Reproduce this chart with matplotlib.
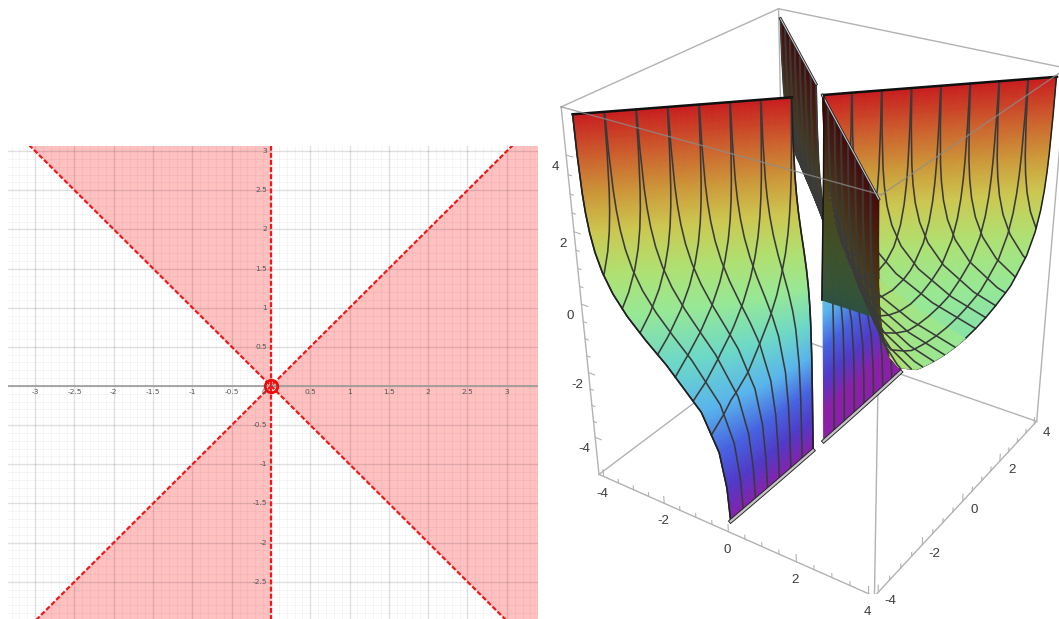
import numpy as np
import matplotlib
matplotlib.use("Agg")
import matplotlib.pyplot as plt
from matplotlib.colors import LinearSegmentedColormap
from mpl_toolkits.mplot3d import proj3d
from mpl_toolkits.mplot3d.art3d import Poly3DCollection
import contourpy

W, H = 1059, 619

# ---------- left chart data ----------
BOUNDARY_POS_X = [-3.4, 3.4]
BOUNDARY_POS_Y = [-3.4, 3.4]
BOUNDARY_NEG_X = [-3.4, 3.4]
BOUNDARY_NEG_Y = [3.4, -3.4]
BOUNDARY_V_X = [0, 0]
BOUNDARY_V_Y = [-3.1, 3.1]
REGION_UPPER_LEFT_X = [-3.4, 0, 0, -3.4]
REGION_UPPER_LEFT_Y = [3.4, 0, 3.4, 3.4]
REGION_LOWER_LEFT_X = [-3.4, 0, 0, -3.4]
REGION_LOWER_LEFT_Y = [-3.4, 0, -3.4, -3.4]
REGION_RIGHT_X = [0, 3.4, 3.4]
REGION_RIGHT_Y = [0, 3.4, -3.4]
HOLE_X = [0]
HOLE_Y = [0]
TICKS_2D = [-3, -2.5, -2, -1.5, -1, -0.5, 0.5, 1, 1.5, 2, 2.5, 3]
TICK_LABELS_2D = ["-3", "-2.5", "-2", "-1.5", "-1", "-0.5", "0.5", "1", "1.5", "2", "2.5", "3"]
YTICKS_2D = [-2.5, -2, -1.5, -1, -0.5, 0.5, 1, 1.5, 2, 2.5, 3]
YTICK_LABELS_2D = ["-2.5", "-2", "-1.5", "-1", "-0.5", "0.5", "1", "1.5", "2", "2.5", "3"]
MAJOR_GRID = [-3.5, -3, -2.5, -2, -1.5, -1, -0.5, 0, 0.5, 1, 1.5, 2, 2.5, 3, 3.5]

# ---------- surface data: distance |x| per row (z) and column (|y|) ----------
Y_LEVELS = [0, 0.5, 1, 1.5, 2, 2.5, 3, 3.5, 4]
Z_ROWS_LEFT = [-5, -4, -3, -2, -1, -0.5, 0, 0.5, 1, 1.5, 2, 2.5, 3, 4, 5]
ABS_X_LEFT = [
    [0, .0006, .0025, .0056, .0099, .0155, .0223, .0304, .0397],
    [0, .0017, .0067, .0152, .0270, .0421, .0606, .0825, .1077],
    [0, .0046, .0183, .0412, .0733, .1143, .1643, .2235, .2915],
    [0, .0124, .0497, .1114, .1972, .3065, .4386, .5926, .7677],
    [0, .0337, .1329, .2929, .5064, .7662, 1.0642, 1.3942, 1.7501],
    [0, .0551, .2130, .4557, .7626, 1.1163, 1.5035, 1.9148, 2.3436],
    [0, .0890, .3282, .6651, 1.0590, 1.4866, 1.9345, 2.3957, 2.8656],
    [0, .1398, .4716, .8872, 1.3389, 1.8080, 2.2868, 2.7712, 3.2596],
    [0, .2071, .6180, 1.0811, 1.5616, 2.0495, 2.5414, 3.0355, 3.5311],
    [0, .2816, .7417, 1.2271, 1.7196, 2.2151, 2.7121, 3.2098, 3.7083],
    [0, .3488, .8329, 1.3273, 1.8246, 2.3227, 2.8217, 3.3210, 3.8203],
    [0, .4007, .8947, 1.3926, 1.8916, 2.3911, 2.8907, 3.3902, 3.8900],
    [0, .4369, .9346, 1.4339, 1.9335, 2.4332, 2.9331, 3.4330, 3.9329],
    [0, .4757, .9754, 1.4753, 1.9753, 2.4752, 2.9752, 3.4752, 3.9752],
    [0, .4909, .9909, 1.4908, 1.9908, 2.4908, 2.9908, 3.4908, 3.9908],
]
Z_ROWS_RIGHT = [-0.5, 0, 0.5, 1, 1.5, 2, 2.5, 3, 4, 5]
X_RIGHT = [
    [4.4817, 4.5368, 4.6947, 4.9374, 5.2443, 5.5980, 5.9852, 6.3965, 6.8253],
    [2.7183, 2.8073, 3.0465, 3.3834, 3.7773, 4.2049, 4.6528, 5.1140, 5.5839],
    [1.6487, 1.7885, 2.1203, 2.5359, 2.9876, 3.4567, 3.9355, 4.4199, 4.9083],
    [1.0000, 1.2071, 1.6180, 2.0811, 2.5616, 3.0495, 3.5414, 4.0355, 4.5311],
    [.6065, .8881, 1.3482, 1.8336, 2.3261, 2.8216, 3.3186, 3.8163, 4.3148],
    [.3679, .7167, 1.2008, 1.6952, 2.1925, 2.6906, 3.1896, 3.6889, 4.1882],
    [.2231, .6238, 1.1178, 1.6157, 2.1147, 2.6142, 3.1138, 3.6133, 4.1131],
    [.1353, .5722, 1.0699, 1.5692, 2.0688, 2.5685, 3.0684, 3.5683, 4.0682],
    [.0498, .5255, 1.0252, 1.5251, 2.0251, 2.5250, 3.0250, 3.5250, 4.0250],
    [.0183, .5092, 1.0092, 1.5091, 2.0091, 2.5091, 3.0091, 3.5091, 4.0091],
]
# dark wall left of the right sheet, in the plane y = 0
WALL_Z = [-0.6, 0, 0.5, 1, 1.5, 2, 2.5, 3, 4, 5]
WALL_LEFT_X = [-0.03, -0.02, -0.01, 0.0, 0.01, 0.02, 0.03, 0.04, 0.05, 0.06]
WALL_RIGHT_X = [1.90, 1.90, 1.65, 1.00, 0.61, 0.37, 0.22, 0.135, 0.05, 0.06]
X_MESH_LEVELS = [0.5, 1, 1.5, 2, 2.5, 3, 3.5]
X_MESH_LEVELS_RIGHT = [0.5, 1, 1.5, 2, 2.5, 3, 3.5]
X_LIMIT = 4.0
RAINBOW_Z = [-5, -4, -3, -2, -1, 0, 1, 2, 3, 4, 5]
RAINBOW_COLORS = ["#8a1fa8", "#5038c8", "#4662e0", "#58b4ec", "#6cd8c8", "#96e896",
                  "#b0e070", "#ccc850", "#cc9638", "#cc5c2c", "#c81e1e"]
AXIS_TICKS_3D = [-4, -3.5, -3, -2.5, -2, -1.5, -1, -0.5, 0, 0.5, 1, 1.5, 2, 2.5, 3, 3.5, 4]
MAJOR_3D = [-4, -2, 0, 2, 4]
MAJOR_LABELS_3D = ["-4", "-2", "0", "2", "4"]
BOX_X = (-4.16, 4.16)
BOX_Y = (-4.16, 4.16)
BOX_Z = (-5.2, 5.2)

fig = plt.figure(figsize=(W / 100, H / 100), dpi=100)

# ===== left chart =====
lx0, lx1, ly0, ly1 = 8, 538, 146, 619
a = fig.add_axes([lx0 / W, (H - ly1) / H, (lx1 - lx0) / W, (ly1 - ly0) / H])
for s in a.spines.values():
    s.set_visible(False)
pink = "#ffc0c0"
a.fill(REGION_UPPER_LEFT_X, REGION_UPPER_LEFT_Y, color=pink, lw=0, zorder=1)
a.fill(REGION_LOWER_LEFT_X, REGION_LOWER_LEFT_Y, color=pink, lw=0, zorder=1)
a.fill(REGION_RIGHT_X, REGION_RIGHT_Y, color=pink, lw=0, zorder=1)
minor = np.round(np.arange(-3.4, 3.41, 0.1), 1)
a.set_xticks(MAJOR_GRID)
a.set_yticks(MAJOR_GRID)
a.set_xticks(minor, minor=True)
a.set_yticks(minor, minor=True)
a.set_xlim(-3.346, 3.397)
a.set_ylim(-2.976, 3.065)
a.tick_params(which="both", length=0, labelbottom=False, labelleft=False)
a.grid(True, which="major", color="black", alpha=0.12, lw=1.0, zorder=2)
a.grid(True, which="minor", color="black", alpha=0.035, lw=0.7, zorder=2)
a.set_axisbelow(False)
a.axhline(0, color="#9a9a9a", lw=1.2, zorder=3)
dash = (0, (2.2, 1.0))
a.plot(BOUNDARY_POS_X, BOUNDARY_POS_Y, color="#f01818", lw=1.6, ls=dash, zorder=4)
a.plot(BOUNDARY_NEG_X, BOUNDARY_NEG_Y, color="#f01818", lw=1.6, ls=dash, zorder=4)
a.plot(BOUNDARY_V_X, BOUNDARY_V_Y, color="#f01818", lw=1.6, ls=dash, zorder=4)
a.plot(HOLE_X, HOLE_Y, "o", ms=9, mfc="none", mec="#f00a0a", mew=2.0, zorder=5)
for v, t in zip(TICKS_2D, TICK_LABELS_2D):
    a.annotate(t, (v, 0), xytext=(0, -4.6), textcoords="offset points", ha="center", va="center",
               fontsize=5.4, color="#555555", zorder=6)
for v, t in zip(YTICKS_2D, YTICK_LABELS_2D):
    a.annotate(t, (0, v), xytext=(-3, 0), textcoords="offset points", ha="right", va="center",
               fontsize=5.4, color="#555555", zorder=6)
a.annotate("0", (0, 0), xytext=(-5, -4.6), textcoords="offset points", ha="center", va="center",
           fontsize=5.4, color="#555555", zorder=6)

# ===== right 3D chart =====
ax = fig.add_axes([509.2 / W, (H - 593.5) / H, 610.7 / W, 610.7 / H], projection="3d")
ax.set_axis_off()
ax.patch.set_alpha(0)
ax.computed_zorder = False
ax.set_xlim(*BOX_X); ax.set_ylim(*BOX_Y); ax.set_zlim(*BOX_Z)
ax.view_init(28.847, -56.092, 0.332)
ax.set_proj_type("persp", focal_length=0.419)
ax.set_box_aspect((1, 1, 1.211))
M = ax.get_proj()
cmap = LinearSegmentedColormap.from_list("rb", [((z + 5) / 10, c) for z, c in zip(RAINBOW_Z, RAINBOW_COLORS)])


def clip_poly(P):
    out = []
    n = len(P)
    for i in range(n):
        p, q = P[i], P[(i + 1) % n]
        pin, qin = p[0] <= X_LIMIT, q[0] <= X_LIMIT
        if pin:
            out.append(p)
        if pin != qin:
            t = (X_LIMIT - p[0]) / (q[0] - p[0])
            out.append(p + t * (q - p))
    return out


def faces(table, rows, xs, ys_sign, clip=False, j0=0, drop_first_above=None, lit_shift=0.0):
    table = np.array(table, float)[:, j0:]
    rows = np.array(rows, float)
    Y = np.array(Y_LEVELS, float)[j0:] * ys_sign
    polys, cols = [], []
    for i in range(len(rows) - 1):
        n = max(1, int(np.ceil((rows[i + 1] - rows[i]) / 0.05)))
        for k in range(n):
            t0, t1 = k / n, (k + 1) / n
            z0 = rows[i] + t0 * (rows[i + 1] - rows[i])
            z1 = rows[i] + t1 * (rows[i + 1] - rows[i])
            for j in range(len(Y) - 1):
                if j == 0 and drop_first_above is not None and z0 >= drop_first_above:
                    continue
                xa0 = table[i, j] + t0 * (table[i + 1, j] - table[i, j])
                xa1 = table[i, j] + t1 * (table[i + 1, j] - table[i, j])
                xb0 = table[i, j + 1] + t0 * (table[i + 1, j + 1] - table[i, j + 1])
                xb1 = table[i, j + 1] + t1 * (table[i + 1, j + 1] - table[i, j + 1])
                P = [np.array([xs * xa0, Y[j], z0]), np.array([xs * xb0, Y[j + 1], z0]),
                     np.array([xs * xb1, Y[j + 1], z1]), np.array([xs * xa1, Y[j], z1])]
                n_z = np.cross(P[1] - P[0], P[3] - P[0])[2]
                sx, sy, _ = proj3d.proj_transform(*np.array(P).T, M)
                area = (sx[2] - sx[0]) * (sy[3] - sy[1]) - (sx[3] - sx[1]) * (sy[2] - sy[0])
                if clip:
                    P = clip_poly(P)
                    if len(P) < 3:
                        continue
                zm = (z0 + z1) / 2
                if n_z * area < 0:
                    c = np.array(cmap((zm + 5) / 10))
                    c[:3] *= 0.36
                else:
                    c = np.array(cmap((np.clip(zm + lit_shift, -5, 5) + 5) / 10))
                polys.append(np.array(P))
                cols.append(c)
    return polys, cols


def wall_faces():
    polys, cols = [], []
    for i in range(len(WALL_Z) - 1):
        n = int(np.ceil((WALL_Z[i + 1] - WALL_Z[i]) / 0.05))
        for k in range(n):
            t0, t1 = k / n, (k + 1) / n
            za = WALL_Z[i] + t0 * (WALL_Z[i + 1] - WALL_Z[i])
            zb = WALL_Z[i] + t1 * (WALL_Z[i + 1] - WALL_Z[i])
            la = WALL_LEFT_X[i] + t0 * (WALL_LEFT_X[i + 1] - WALL_LEFT_X[i])
            lb = WALL_LEFT_X[i] + t1 * (WALL_LEFT_X[i + 1] - WALL_LEFT_X[i])
            ra = WALL_RIGHT_X[i] + t0 * (WALL_RIGHT_X[i + 1] - WALL_RIGHT_X[i])
            rb = WALL_RIGHT_X[i] + t1 * (WALL_RIGHT_X[i + 1] - WALL_RIGHT_X[i])
            polys.append(np.array([[la, 0, za], [ra, 0, za], [rb, 0, zb], [lb, 0, zb]]))
            c = np.array(cmap(((za + zb) / 2 + 5) / 10))
            c[:3] *= 0.36
            cols.append(c)
    return polys, cols


def add_surface(polys, cols, z):
    pc = Poly3DCollection(polys, facecolors=cols, edgecolors=cols, linewidths=0.6, shade=False, zorder=z)
    ax.add_collection3d(pc, autolim=False)


def mesh(table, rows, xs, ys_sign, levels, z, col="#3a3a3a", lw=1.15, j0=0):
    table = np.array(table, float)[:, j0:]
    rows = np.array(rows, float)
    Y = np.array(Y_LEVELS, float)[j0:]
    for j, yv in enumerate(Y):
        xc, zc = table[:, j].copy(), rows.copy()
        if xs > 0 and xc.max() > X_LIMIT:
            zedge = np.interp(-X_LIMIT, -xc, zc)
            keep = xc < X_LIMIT
            xc = np.r_[X_LIMIT, xc[keep]]
            zc = np.r_[zedge, zc[keep]]
        if yv == 0:
            continue
        ax.plot(xs * xc, np.full(len(xc), ys_sign * yv), zc, color=col, lw=lw, zorder=z, solid_capstyle="round")
    gen = contourpy.contour_generator(x=Y, y=rows, z=table)
    for lev in levels:
        for seg in gen.lines(lev):
            ax.plot(np.full(len(seg), xs * lev), ys_sign * seg[:, 0], seg[:, 1], color=col, lw=lw, zorder=z)


edge_grey = "#b2b2b2"


def line3(p, q, z, col=edge_grey, lw=1.0, alpha=1):
    ax.plot([p[0], q[0]], [p[1], q[1]], [p[2], q[2]], color=col, lw=lw, zorder=z, alpha=alpha)


x0, x1 = BOX_X
y0, y1 = BOX_Y
z0, z1 = BOX_Z
# box edges behind the surface
for p, q in [((x0, y0, z0), (x1, y0, z0)), ((x1, y0, z0), (x1, y1, z0)), ((x0, y0, z0), (x0, y1, z0)),
             ((x1, y1, z0), (x0, y1, z0)), ((x0, y1, z0), (x0, y1, z1)), ((x0, y0, z0), (x0, y0, z1)),
             ((x1, y1, z0), (x1, y1, z1)), ((x1, y0, z0), (x1, y0, z1)),
             ((x0, y0, z1), (x0, y1, z1)), ((x0, y1, z1), (x1, y1, z1))]:
    line3(p, q, 1)
# ticks
for v in AXIS_TICKS_3D:
    L = 0.22 if v in MAJOR_3D else 0.12
    line3((v, y0, z0), (v, y0, z0 + L), 1, lw=0.8)
    line3((x1, v, z0), (x1, v, z0 + L), 1, lw=0.8)
    L2 = 0.2 if v in MAJOR_3D else 0.1
    line3((x0, y0, v), (x0 + L2, y0, v), 1, lw=0.8)


def label(text, p, dx, dy):
    sx, sy, _ = proj3d.proj_transform(p[0], p[1], p[2], M)
    ax.annotate(text, (sx, sy), xytext=(dx * 0.72, dy * 0.72), textcoords="offset points", ha="center", va="center",
                fontsize=9.6, color="#3c3c3c", family="Liberation Sans", zorder=20, annotation_clip=False)


for v, t in zip(MAJOR_3D, MAJOR_LABELS_3D):
    label(t, (v, y0, z0), -1, -18)
    label(t, (x1, v, z0), 12, -9)
    label(t, (x0, y0, v), -11, -12)

# surfaces, back to front
p, c = faces(ABS_X_LEFT, Z_ROWS_LEFT, -1, 1, drop_first_above=-0.5, lit_shift=-1.0)
add_surface(p, c, 2)
mesh(ABS_X_LEFT, Z_ROWS_LEFT, -1, 1, X_MESH_LEVELS, 3)

p, c = faces(X_RIGHT, Z_ROWS_RIGHT, 1, 1, clip=True)
add_surface(p, c, 4)
mesh(X_RIGHT, Z_ROWS_RIGHT, 1, 1, X_MESH_LEVELS_RIGHT, 5)

p, c = wall_faces()
add_surface(p, c, 5.7)

p, c = faces(X_RIGHT, Z_ROWS_RIGHT, 1, -1, clip=True, lit_shift=0.4)
add_surface(p, c, 6)
mesh(X_RIGHT, Z_ROWS_RIGHT, 1, -1, X_MESH_LEVELS_RIGHT, 7)

p, c = faces(ABS_X_LEFT, Z_ROWS_LEFT, -1, -1, j0=1)
add_surface(p, c, 8)
mesh(ABS_X_LEFT, Z_ROWS_LEFT, -1, -1, X_MESH_LEVELS, 9, j0=1)

tab_l = np.array(ABS_X_LEFT)
tab_r = np.array(X_RIGHT)
Yv = np.array(Y_LEVELS)
# outlines of the surface
ax.plot(-tab_l[-1, 1:], -Yv[1:], Z_ROWS_LEFT[-1], color="#101010", lw=1.8, zorder=9.5)
ax.plot(-tab_l[:, -1], -Yv[-1] * np.ones(len(tab_l)), Z_ROWS_LEFT, color="#202020", lw=1.1, zorder=9.5)
ax.plot(-tab_l[:, 1], -Yv[1] * np.ones(len(tab_l)), Z_ROWS_LEFT, color="#202020", lw=1.1, zorder=9.5)
ax.plot(-tab_l[0, 1:], -Yv[1:], Z_ROWS_LEFT[0], color="#222222", lw=3.0, zorder=9.5)
ax.plot(-tab_l[0, 1:], -Yv[1:], Z_ROWS_LEFT[0], color="#c4c4c4", lw=1.7, zorder=9.6)
ax.plot(-tab_l[0], Yv, Z_ROWS_LEFT[0], color="#222222", lw=3.0, zorder=3.5)
ax.plot(-tab_l[0], Yv, Z_ROWS_LEFT[0], color="#c4c4c4", lw=1.7, zorder=3.6)
ax.plot(-tab_l[-1, 1:], Yv[1:], Z_ROWS_LEFT[-1], color="#222222", lw=2.0, zorder=3.5)
ax.plot(-tab_l[-1, 1:], Yv[1:], Z_ROWS_LEFT[-1], color="#c4c4c4", lw=0.8, zorder=3.6)
ax.plot(tab_r[-1], Yv, Z_ROWS_RIGHT[-1], color="#101010", lw=1.8, zorder=5.5)
ax.plot(tab_r[-1], -Yv, Z_ROWS_RIGHT[-1], color="#222222", lw=2.0, zorder=7.5)
ax.plot(tab_r[-1], -Yv, Z_ROWS_RIGHT[-1], color="#c4c4c4", lw=0.8, zorder=7.6)
ax.plot(WALL_LEFT_X, np.zeros(len(WALL_Z)), WALL_Z, color="#141414", lw=1.1, zorder=7.7)
gen_r = contourpy.contour_generator(x=Yv, y=np.array(Z_ROWS_RIGHT), z=tab_r)
for seg in gen_r.lines(X_LIMIT):
    ax.plot(np.full(len(seg), X_LIMIT), seg[:, 0], seg[:, 1], color="#202020", lw=1.1, zorder=5.5)
    ax.plot(np.full(len(seg), X_LIMIT), -seg[:, 0], seg[:, 1], color="#202020", lw=1.1, zorder=5.5)

# top edges of the box over the surface
line3((x0, y0, z1), (x1, y0, z1), 10, col="#8c8c8c", lw=1.0, alpha=0.75)
line3((x1, y0, z1), (x1, y1, z1), 10, col="#8c8c8c", lw=1.0, alpha=0.75)

ax.set_xlim(*BOX_X); ax.set_ylim(*BOX_Y); ax.set_zlim(*BOX_Z)
fig.savefig("out.png", dpi=100)
